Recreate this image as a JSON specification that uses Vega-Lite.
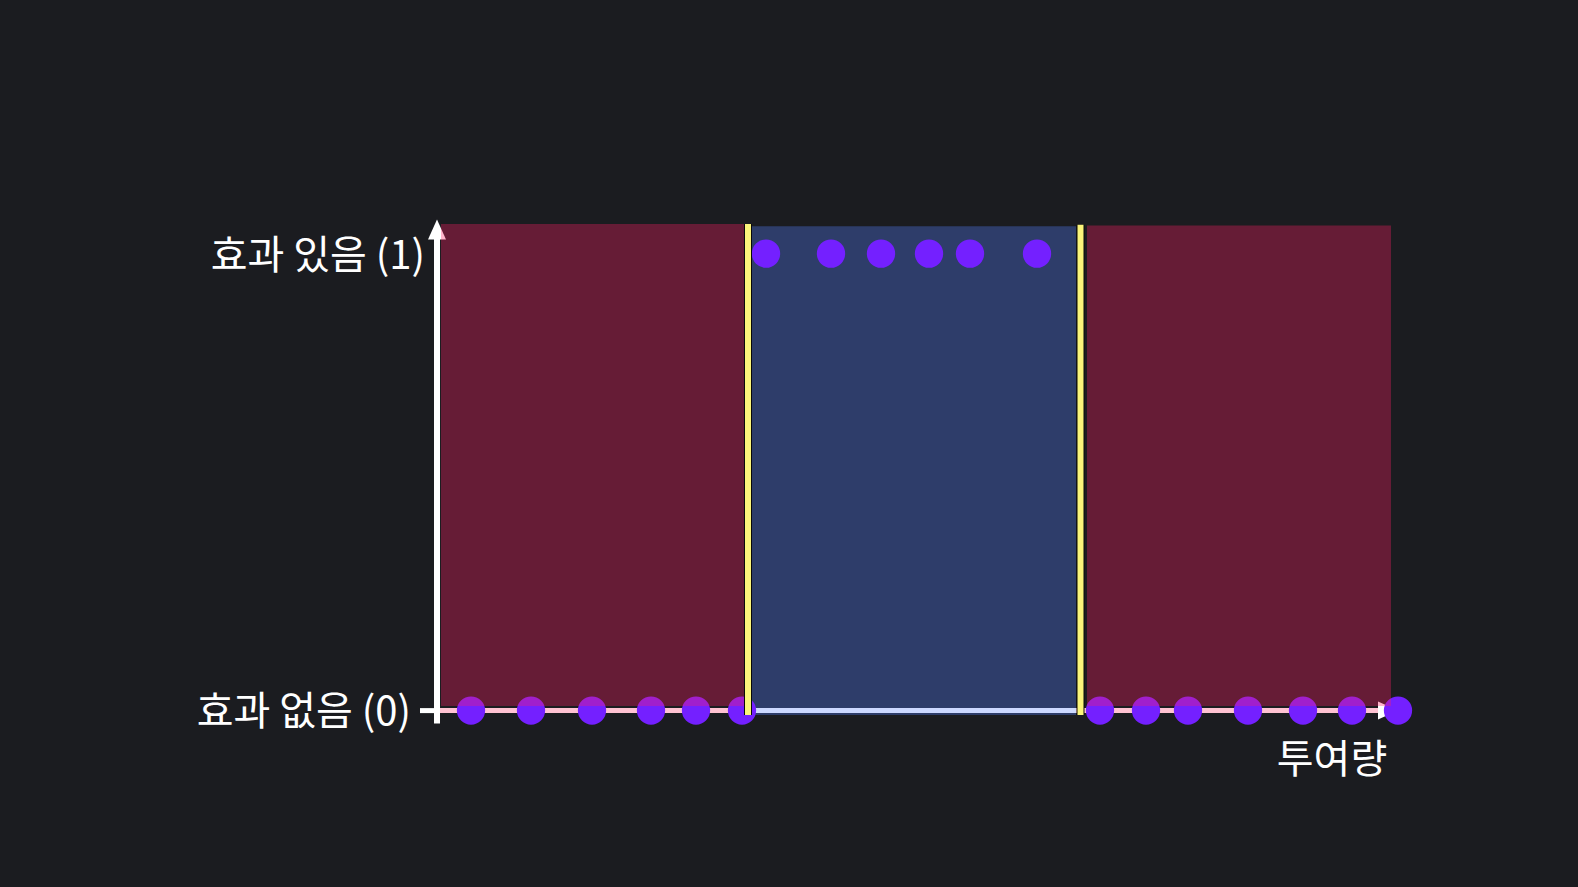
{
  "$schema": "https://vega.github.io/schema/vega-lite/v6.json",
  "width": 1578,
  "height": 887,
  "autosize": "none",
  "padding": 0,
  "background": "#1b1c20",
  "config": {"view": {"stroke": null}},
  "datasets": {
    "blue": [{"x": 3.14, "x2": 6.38, "y": -0.0098, "y2": 1.06}],
    "red": [
      {"x": 0.03, "x2": 3.07, "y": 0.00985, "y2": 1.065},
      {"x": 6.49, "x2": 9.53, "y": 0.00985, "y2": 1.0615}
    ],
    "baseline": [
      {"x": -0.01, "x2": 9.54, "y": 0, "part": "pink"},
      {"x": 3.14, "x2": 6.38, "y": 0, "part": "lavender"}
    ],
    "yaxis": [{"x": -0.01, "y": -0.028, "y2": 1.04}],
    "tick": [{"x": -0.18, "x2": -0.01, "y": 0}],
    "arrows": [
      {"x": -0.01, "y": 1.053, "dir": "up"},
      {"x": 9.5, "y": 0, "dir": "right"}
    ],
    "points": [
      {"dose": 0.33, "effect": 0}, {"dose": 0.93, "effect": 0}, {"dose": 1.54, "effect": 0},
      {"dose": 2.13, "effect": 0}, {"dose": 2.58, "effect": 0}, {"dose": 3.04, "effect": 0},
      {"dose": 3.28, "effect": 1}, {"dose": 3.93, "effect": 1}, {"dose": 4.43, "effect": 1},
      {"dose": 4.91, "effect": 1}, {"dose": 5.32, "effect": 1}, {"dose": 5.99, "effect": 1},
      {"dose": 6.62, "effect": 0}, {"dose": 7.08, "effect": 0}, {"dose": 7.5, "effect": 0},
      {"dose": 8.1, "effect": 0}, {"dose": 8.65, "effect": 0}, {"dose": 9.14, "effect": 0},
      {"dose": 9.6, "effect": 0}
    ],
    "dividers": [
      {"x": 3.1, "y": -0.0098, "y2": 1.065},
      {"x": 6.425, "y": -0.0098, "y2": 1.063}
    ],
    "labelsRight": [
      {"x": -0.13, "y": 0.993, "text": "효과 있음 (1)"},
      {"x": -0.27, "y": -0.006, "text": "효과 없음 (0)"}
    ],
    "labelsCenter": [
      {"x": 8.94, "y": -0.11, "text": "투여량"}
    ]
  },
  "layer": [
    {
      "data": {"name": "blue"},
      "mark": {"type": "rect", "color": "#2e3d6a"},
      "encoding": {
        "x": {"field": "x", "type": "quantitative", "scale": {"domain": [-4.38, 11.4], "nice": false, "zero": false}, "axis": null},
        "x2": {"field": "x2"},
        "y": {"field": "y", "type": "quantitative", "scale": {"domain": [-0.386, 1.555], "nice": false, "zero": false}, "axis": null},
        "y2": {"field": "y2"}
      }
    },
    {
      "data": {"name": "baseline"},
      "mark": {"type": "rule", "strokeWidth": 5},
      "encoding": {
        "x": {"field": "x", "type": "quantitative"},
        "x2": {"field": "x2"},
        "y": {"field": "y", "type": "quantitative"},
        "color": {"field": "part", "type": "nominal", "scale": {"domain": ["pink", "lavender"], "range": ["#ffc2d2", "#cdd9ff"]}, "legend": null}
      }
    },
    {
      "data": {"name": "yaxis"},
      "mark": {"type": "rule", "strokeWidth": 6, "color": "#ffffff"},
      "encoding": {
        "x": {"field": "x", "type": "quantitative"},
        "y": {"field": "y", "type": "quantitative"},
        "y2": {"field": "y2"}
      }
    },
    {
      "data": {"name": "tick"},
      "mark": {"type": "rule", "strokeWidth": 5, "color": "#ffffff"},
      "encoding": {
        "x": {"field": "x", "type": "quantitative"},
        "x2": {"field": "x2"},
        "y": {"field": "y", "type": "quantitative"}
      }
    },
    {
      "data": {"name": "arrows"},
      "mark": {"type": "point", "filled": true, "color": "#ffffff", "opacity": 1, "size": 400},
      "encoding": {
        "x": {"field": "x", "type": "quantitative"},
        "y": {"field": "y", "type": "quantitative"},
        "shape": {"field": "dir", "type": "nominal", "scale": {"domain": ["up", "right"], "range": ["M0,-1L0.9,1L-0.9,1Z", "M1,0L-1,-0.9L-1,0.9Z"]}, "legend": null}
      }
    },
    {
      "data": {"name": "points"},
      "mark": {"type": "circle", "color": "#7420ff", "opacity": 1, "size": 800},
      "encoding": {
        "x": {"field": "dose", "type": "quantitative"},
        "y": {"field": "effect", "type": "quantitative"}
      }
    },
    {
      "data": {"name": "red"},
      "mark": {"type": "rect", "color": "#ff1e64", "opacity": 0.33},
      "encoding": {
        "x": {"field": "x", "type": "quantitative"},
        "x2": {"field": "x2"},
        "y": {"field": "y", "type": "quantitative"},
        "y2": {"field": "y2"}
      }
    },
    {
      "data": {"name": "dividers"},
      "mark": {"type": "rule", "strokeWidth": 8, "color": "#0a0a0a"},
      "encoding": {
        "x": {"field": "x", "type": "quantitative"},
        "y": {"field": "y", "type": "quantitative"},
        "y2": {"field": "y2"}
      }
    },
    {
      "data": {"name": "dividers"},
      "mark": {"type": "rule", "strokeWidth": 6, "color": "#fbf47a"},
      "encoding": {
        "x": {"field": "x", "type": "quantitative"},
        "y": {"field": "y", "type": "quantitative"},
        "y2": {"field": "y2"}
      }
    },
    {
      "data": {"name": "labelsRight"},
      "mark": {"type": "text", "font": "Noto Sans CJK KR", "fontSize": 40, "fontWeight": 400, "color": "#ffffff", "baseline": "middle", "align": "right"},
      "encoding": {
        "x": {"field": "x", "type": "quantitative"},
        "y": {"field": "y", "type": "quantitative"},
        "text": {"field": "text"}
      }
    },
    {
      "data": {"name": "labelsCenter"},
      "mark": {"type": "text", "font": "Noto Sans CJK KR", "fontSize": 40, "fontWeight": 400, "color": "#ffffff", "baseline": "middle", "align": "center"},
      "encoding": {
        "x": {"field": "x", "type": "quantitative"},
        "y": {"field": "y", "type": "quantitative"},
        "text": {"field": "text"}
      }
    }
  ]
}
